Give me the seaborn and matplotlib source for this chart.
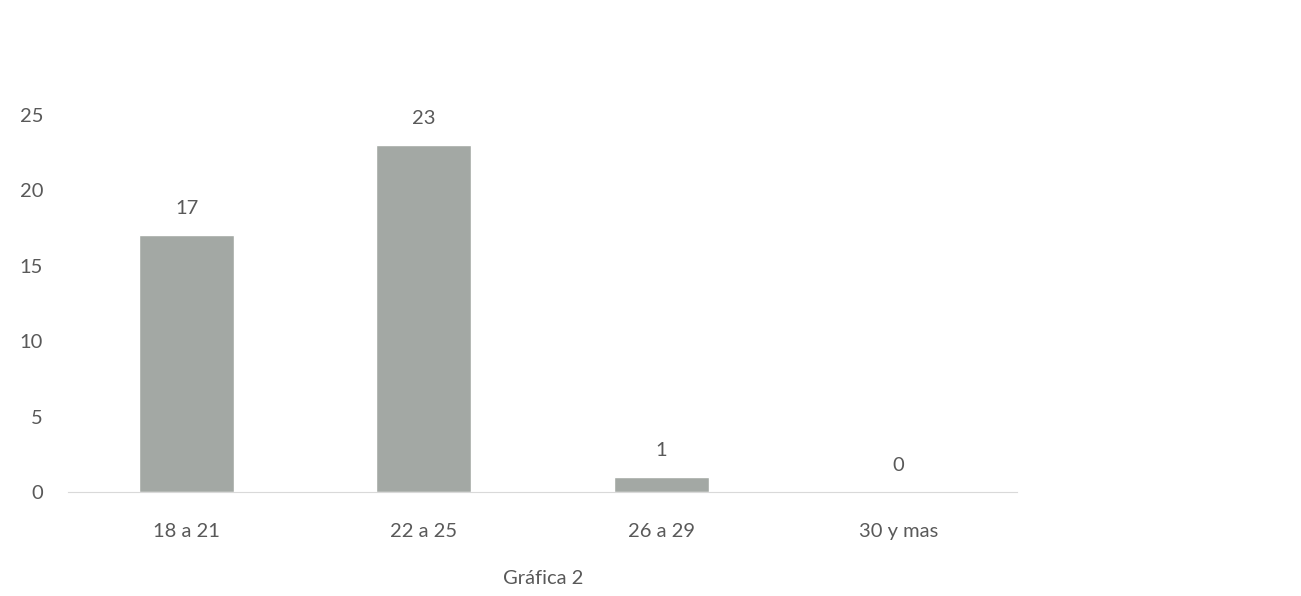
import matplotlib
matplotlib.use("Agg")
import matplotlib.pyplot as plt
import seaborn as sns
import pandas as pd

categories = ["18 a 21", "22 a 25", "26 a 29", "30 y mas"]
values = [17, 23, 1, 0]
yticks = [0, 5, 10, 15, 20, 25]
title = "Gráfica 2"

sns.set_style("white")
plt.rcParams['font.family'] = ['Lato', 'DejaVu Sans']

df = pd.DataFrame({"cat": categories, "val": values})
fig = plt.figure(figsize=(13.01, 5.96), dpi=100)
ax = fig.add_axes([0.0523, 0.1745, 0.7294, 0.684])
sns.barplot(data=df, x="cat", y="val", color="#a3a8a4", saturation=1, width=0.4, ax=ax)
ax.set_xlim(-0.5, 3.5)
ax.set_ylim(0, 27)
ax.set_yticks(yticks)
txtc = "#595959"
ax.tick_params(axis="both", colors=txtc, labelsize=14.5, length=0)
ax.tick_params(axis="x", pad=22)
ax.tick_params(axis="y", pad=18)
for s in ["top", "right", "left"]:
    ax.spines[s].set_visible(False)
ax.spines["bottom"].set_color("#d9d9d9")
ax.set_xlabel("")
ax.set_ylabel("")
for i, v in enumerate(values):
    ax.text(i, v + 1.2, str(v), ha="center", va="bottom", fontsize=14.5, color=txtc)
fig.text(0.4175, 0.03, title, ha="center", va="center", fontsize=14.5, color=txtc)
fig.savefig("out.png", dpi=100)
